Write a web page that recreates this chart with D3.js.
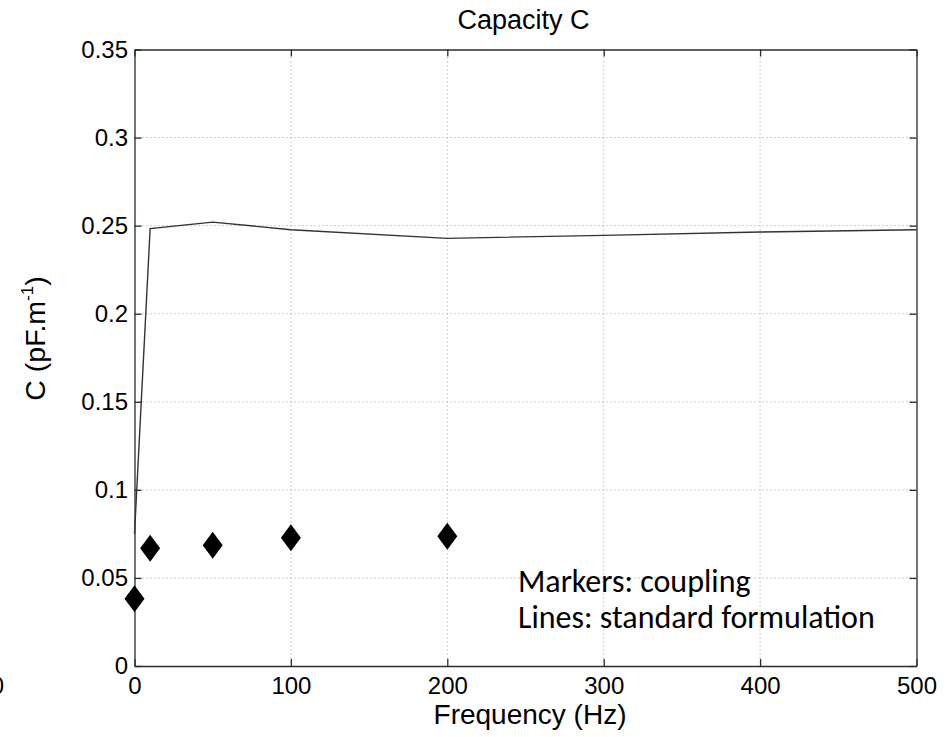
<!DOCTYPE html>
<html>
<head>
<meta charset="utf-8">
<script src="https://cdn.jsdelivr.net/npm/d3@7"></script>
<style>
  html, body { margin: 0; padding: 0; background: #fff; }
  svg { display: block; }
  text { font-family: "Liberation Sans", Arial, sans-serif; fill: #000; }
</style>
</head>
<body>
<svg id="chart" width="948" height="737"></svg>
<script>
// Standard formulation (solid line)
const lineFreq = [0, 10, 50, 100, 200, 300, 400, 500];
const lineC = [0.075, 0.2483, 0.252, 0.2477, 0.2428, 0.2445, 0.2464, 0.2477];

// Coupled model (diamond markers)
const markerFreq = [0, 10, 50, 100, 200];
const markerC = [0.0382, 0.0669, 0.0686, 0.0728, 0.0737];

const xTicks = [0, 100, 200, 300, 400, 500];
const yTicks = [0, 0.05, 0.1, 0.15, 0.2, 0.25, 0.3, 0.35];
const yTickLabels = ["0", "0.05", "0.1", "0.15", "0.2", "0.25", "0.3", "0.35"];

const titleText = "Capacity C";
const xLabel = "Frequency (Hz)";
const noteLines = ["Markers: coupling", "Lines: standard formulation"];

const svg = d3.select("#chart");
const m = { left: 134.5, top: 49.5, right: 916.5, bottom: 666 };

const x = d3.scaleLinear().domain([0, 500]).range([m.left, m.right]);
const y = d3.scaleLinear().domain([0, 0.35]).range([m.bottom, m.top]);

// Dotted grid
const grid = svg.append("g").attr("stroke", "#9a9a9a").attr("stroke-width", 1)
  .attr("stroke-dasharray", "1,3");
xTicks.slice(1, -1).forEach(t => {
  grid.append("line").attr("x1", x(t)).attr("x2", x(t)).attr("y1", m.top).attr("y2", m.bottom);
});
yTicks.slice(1, -1).forEach(t => {
  grid.append("line").attr("x1", m.left).attr("x2", m.right).attr("y1", y(t)).attr("y2", y(t));
});

// Axes: ticks pointing inward on every side
const tickLen = 7;
const tickFont = 24;
const axisB = d3.axisBottom(x).tickValues(xTicks).tickSizeInner(-tickLen).tickSizeOuter(0).tickPadding(11);
const axisT = d3.axisTop(x).tickValues(xTicks).tickSizeInner(-tickLen).tickSizeOuter(0).tickFormat("");
const axisL = d3.axisLeft(y).tickValues(yTicks).tickSizeInner(-tickLen).tickSizeOuter(0).tickPadding(6.5)
  .tickFormat((d, i) => yTickLabels[i]);
const axisR = d3.axisRight(y).tickValues(yTicks).tickSizeInner(-tickLen).tickSizeOuter(0).tickFormat("");

function styleAxis(g) {
  g.select(".domain").attr("stroke", "#2b2b2b").attr("stroke-width", 1.3);
  g.selectAll(".tick line").attr("stroke", "#2b2b2b").attr("stroke-width", 1.3);
  g.selectAll(".tick text").attr("font-size", tickFont).attr("fill", "#000");
}
svg.append("g").attr("transform", `translate(0,${m.bottom})`).call(axisB).call(styleAxis);
svg.append("g").attr("transform", `translate(0,${m.top})`).call(axisT).call(styleAxis);
svg.append("g").attr("transform", `translate(${m.left},0)`).call(axisL).call(styleAxis);
svg.append("g").attr("transform", `translate(${m.right},0)`).call(axisR).call(styleAxis);

// Solid line
const line = d3.line().x((d, i) => x(lineFreq[i])).y(d => y(d));
svg.append("path").datum(lineC)
  .attr("d", line).attr("fill", "none").attr("stroke", "#333").attr("stroke-width", 1.4);

// Diamond markers
const hw = 10, hh = 13.5;
svg.append("g").selectAll("path").data(markerC).join("path")
  .attr("d", (d, i) => {
    const cx = x(markerFreq[i]), cy = y(d);
    return `M${cx},${cy - hh}L${cx + hw},${cy}L${cx},${cy + hh}L${cx - hw},${cy}Z`;
  })
  .attr("fill", "#000");

// Title and axis labels
svg.append("text").attr("x", 523.5).attr("y", 29).attr("text-anchor", "middle")
  .attr("font-size", 27).text(titleText);
svg.append("text").attr("x", 530).attr("y", 723.5).attr("text-anchor", "middle")
  .attr("font-size", 28).text(xLabel);

const yl = svg.append("text").attr("transform", "translate(45,338.5) rotate(-90)")
  .attr("text-anchor", "middle").attr("font-size", 28.5);
yl.append("tspan").text("C (pF.m");
yl.append("tspan").attr("font-size", 17).attr("dy", -12).text("-1");
yl.append("tspan").attr("dy", 12).text(")");

// Neighbouring axis label clipped at the left edge
svg.append("text").attr("x", 4).attr("y", 694).attr("text-anchor", "end")
  .attr("font-size", tickFont).text("500");

// Annotation
noteLines.forEach((t, i) => {
  svg.append("text").attr("x", 518).attr("y", 592 + i * 36)
    .style("font-family", "Carlito, Lato, sans-serif").attr("font-size", 32).text(t);
});
</script>
</body>
</html>
